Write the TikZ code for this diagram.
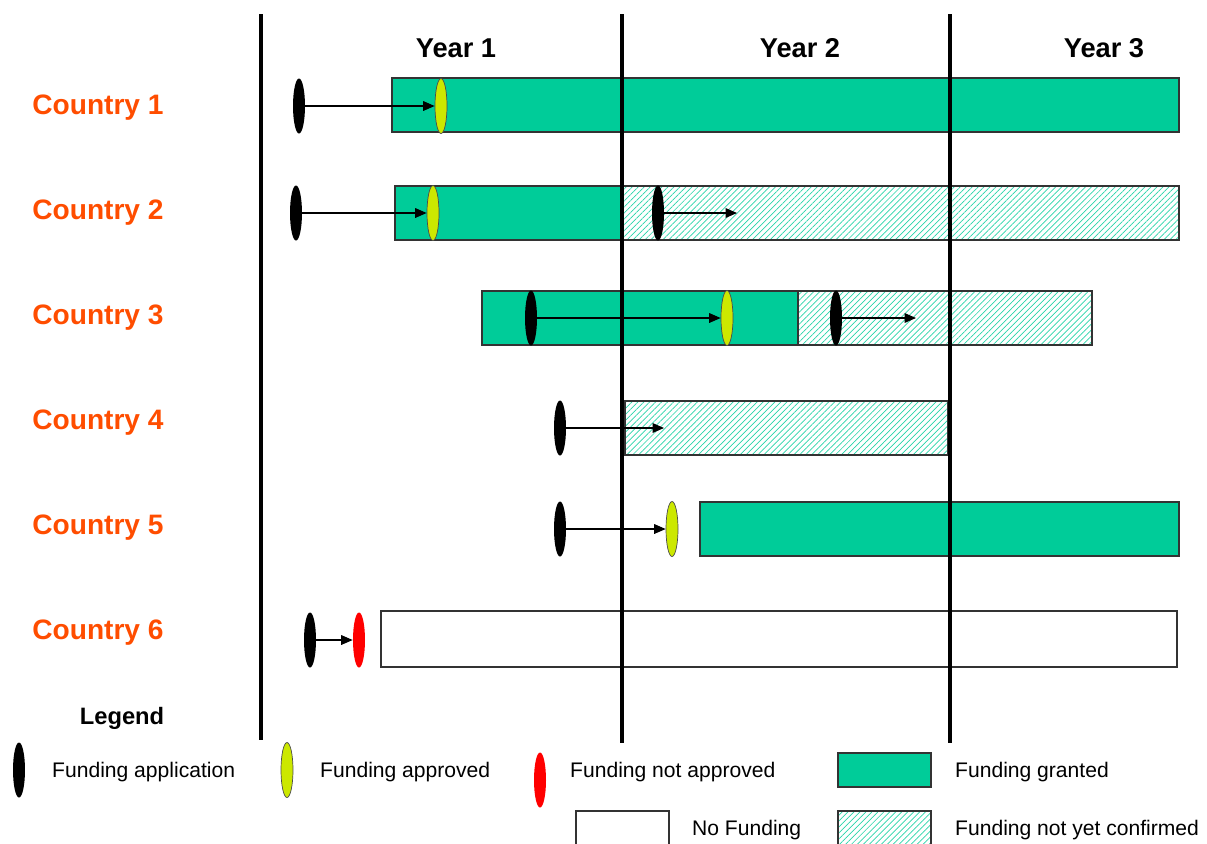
\documentclass[tikz,border=0pt]{standalone}
\usepackage{fontspec}
\setmainfont{Liberation Sans}
\usetikzlibrary{shapes.geometric,arrows.meta,patterns.meta}
\definecolor{grant}{RGB}{0,204,153}
\definecolor{approve}{RGB}{204,232,0}
\definecolor{ctry}{RGB}{255,77,0}
\tikzset{
  app/.style={ellipse,fill=black,inner sep=0pt,minimum width=0.24cm,minimum height=1.1cm},
  ok/.style={ellipse,fill=approve,draw=black!70,line width=0.4pt,inner sep=0pt,minimum width=0.24cm,minimum height=1.1cm},
  notok/.style={ellipse,fill=red,inner sep=0pt,minimum width=0.24cm,minimum height=1.1cm},
  granted/.style={fill=grant,draw=black!80,line width=0.6pt},
  pending/.style={pattern={Lines[angle=45,distance=2.4pt,line width=0.4pt]},pattern color=grant!85,draw=black!80,line width=0.6pt},
  nofund/.style={fill=white,draw=black!80,line width=0.6pt},
  flow/.style={-{Triangle[length=6.5pt,width=5.5pt]},line width=0.6pt},
  ctrylabel/.style={anchor=west,inner sep=0pt,text=ctry,font=\fontsize{16}{18}\selectfont\bfseries},
  yearlabel/.style={font=\fontsize{15.5}{18}\selectfont\bfseries},
  legtext/.style={anchor=west,font=\fontsize{12}{14}\selectfont},
}
\begin{document}
\begin{tikzpicture}[x=0.02cm,y=-0.02cm]
\useasboundingbox (0,0) rectangle (1207,843);
\node[yearlabel] (y1) at (456,48) {Year 1};
\node[yearlabel] (y2) at (800,48) {Year 2};
\node[yearlabel] (y3) at (1104,48) {Year 3};

% Country 1
\node[ctrylabel] (c1) at (32,108) {Country 1};
\draw[granted] (392,78) rectangle (1179,132);
\node[app] (a1) at (299,106) {};
\node[ok] (k1) at (441,106) {};
\draw[flow] (a1) -- (k1);

% Country 2
\node[ctrylabel] (c2) at (32,213) {Country 2};
\draw[granted] (395,186) rectangle (622,240);
\draw[pending] (622,186) rectangle (1179,240);
\node[app] (a2) at (296,213) {};
\node[ok] (k2) at (433,213) {};
\draw[flow] (a2) -- (k2);
\node[app] (a2b) at (658,213) {};
\coordinate (e2) at (737,213);
\draw[flow] (a2b) -- (e2);

% Country 3
\node[ctrylabel] (c3) at (32,318) {Country 3};
\draw[granted] (482,291) rectangle (798,345);
\draw[pending] (798,291) rectangle (1092,345);
\node[app] (a3) at (531,318) {};
\node[ok] (k3) at (727,318) {};
\draw[flow] (a3) -- (k3);
\node[app] (a3b) at (836,318) {};
\coordinate (e3) at (916,318);
\draw[flow] (a3b) -- (e3);

% Country 4
\node[ctrylabel] (c4) at (32,423) {Country 4};
\draw[pending] (625,401) rectangle (948,455);
\node[app] (a4) at (560,428) {};
\coordinate (e4) at (664,428);
\draw[flow] (a4) -- (e4);

% Country 5
\node[ctrylabel] (c5) at (32,528) {Country 5};
\draw[granted] (700,502) rectangle (1179,556);
\node[app] (a5) at (560,529) {};
\node[ok] (k5) at (672,529) {};
\draw[flow] (a5) -- (k5);

% Country 6
\node[ctrylabel] (c6) at (32,633) {Country 6};
\draw[nofund] (381,611) rectangle (1177,667);
\node[app] (a6) at (310,640) {};
\node[notok] (n6) at (359,640) {};
\draw[flow] (a6) -- (n6);

% year dividers, on top of the bars
\draw[line width=2.3pt] (261,14) -- (261,740);
\draw[line width=2.3pt] (622,14) -- (622,743);
\draw[line width=2.3pt] (950,14) -- (950,743);

% Legend
\node[font=\fontsize{13.5}{16}\selectfont\bfseries] (leg) at (122,718) {Legend};
\node[app] (la) at (19,770) {};
\node[legtext] (lta) at (46,772) {Funding application};
\node[ok] (lk) at (287,770) {};
\node[legtext] (ltk) at (314,772) {Funding approved};
\node[notok] (ln) at (540,780) {};
\node[legtext] (ltn) at (564,772) {Funding not approved};
\draw[granted] (838,753) rectangle (931,787);
\node[legtext] (ltg) at (949,772) {Funding granted};
\draw[nofund] (576,811) rectangle (669,850);
\node[legtext] (ltw) at (686,830) {No Funding};
\draw[pending] (838,811) rectangle (931,850);
\node[legtext] (ltp) at (949,830) {Funding not yet confirmed};
\end{tikzpicture}
\end{document}
